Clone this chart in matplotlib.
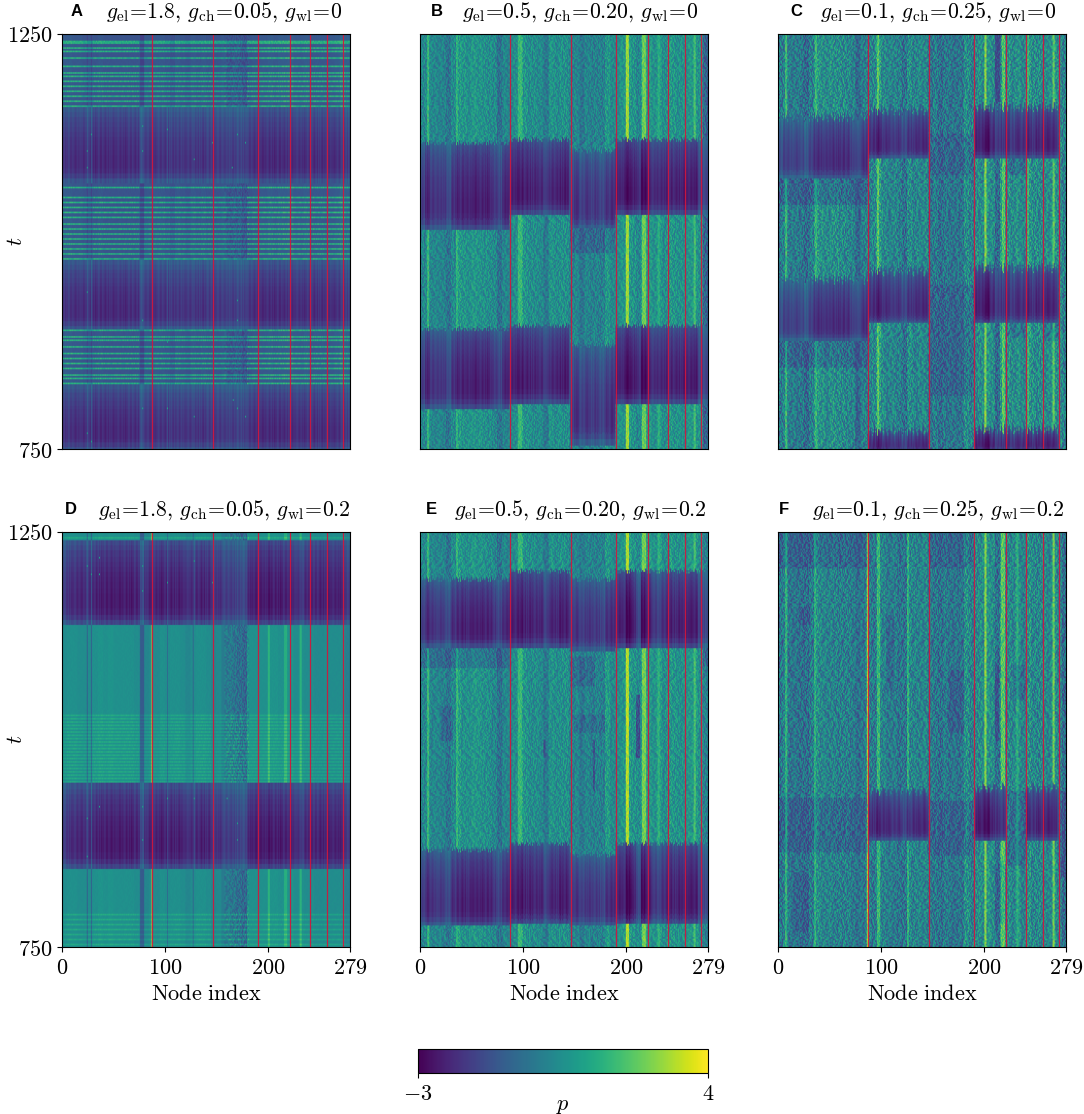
import numpy as np
import matplotlib
matplotlib.use("Agg")
import matplotlib.pyplot as plt

plt.rcParams['mathtext.fontset'] = 'cm'
plt.rcParams['font.family'] = ['DejaVu Serif']

W, H = 1084, 1114
t_top, t_bot = 1250, 750
n_nodes = 280
red_nodes = [87, 146, 190, 221, 240, 257, 272]

# every list below: p per block of 5 nodes, 7 lines of 8 blocks
active_A = [-1.0,-1.0,-1.1,-1.1,-1.2,-1.2,-1.2,-1.1,
            -1.2,-1.2,-1.2,-1.2,-1.2,-1.2,-1.2,-1.2,
            -1.1,-1.1,-1.1,-1.1,-1.2,-1.3,-1.1,-1.2,
            -1.3,-1.1,-1.2,-1.1,-1.2,-1.2,-1.2,-1.1,
            -1.3,-1.2,-1.2,-1.4,-1.2,-1.1,-1.1,-1.1,
            -1.0,-1.1,-1.0,-1.0,-0.9,-1.1,-1.1,-1.0,
            -1.1,-1.1,-1.1,-1.1,-1.1,-1.0,-0.7,-0.9]
quiet_A = [-1.8,-1.9,-2.0,-2.0,-2.0,-2.0,-2.1,-2.1,
           -2.1,-2.1,-2.1,-2.1,-2.1,-2.0,-2.0,-2.0,
           -1.9,-2.0,-1.9,-1.9,-1.9,-1.8,-1.9,-1.8,
           -1.9,-1.8,-1.9,-1.9,-1.8,-1.8,-1.8,-1.7,
           -1.7,-1.7,-1.6,-1.6,-1.9,-2.0,-2.1,-2.1,
           -2.1,-2.1,-2.1,-2.0,-2.0,-2.0,-2.0,-2.0,
           -2.0,-2.0,-2.0,-2.0,-2.0,-2.0,-1.8,-1.7]
stripe_A = [2.4,2.5,2.5,2.5,2.3,1.9,2.5,2.5,
            2.5,2.5,2.5,2.5,2.5,2.5,2.5,1.4,
            2.2,2.4,2.4,2.4,2.3,2.0,2.4,2.4,
            2.2,2.4,2.4,2.4,2.4,2.4,2.2,2.2,
            1.9,1.8,1.6,1.2,2.5,2.5,2.5,2.5,
            2.5,2.5,2.5,2.6,2.6,2.5,2.5,2.5,
            2.5,2.5,2.5,2.5,2.5,2.5,2.4,2.2]

active_B = [0.2,0.3,0.2,0.2,0.1,-0.3,0.3,0.8,
            0.6,0.5,0.7,0.6,0.5,0.4,0.3,-0.4,
            0.2,0.2,0.4,1.2,0.6,0.4,0.4,0.3,
            -0.2,0.6,0.4,0.5,0.5,0.1,0.2,-0.3,
            0.2,0.0,0.1,0.0,0.7,0.3,0.5,0.6,
            0.8,0.6,0.2,1.0,0.8,0.5,0.8,0.4,
            0.8,0.6,0.5,0.6,0.7,0.7,0.5,-0.3]
quiet_B = [-1.7,-2.2,-1.9,-1.8,-1.9,-1.4,-2.0,-2.2,
           -2.3,-2.2,-2.4,-2.3,-2.3,-2.3,-1.9,-1.6,
           -2.2,-2.3,-2.3,-2.5,-2.3,-2.3,-2.2,-2.2,
           -1.7,-2.2,-2.2,-2.4,-2.4,-1.7,-2.0,-1.6,
           -1.9,-1.7,-1.8,-1.5,-1.9,-2.1,-2.3,-2.3,
           -2.8,-2.4,-2.1,-2.8,-2.4,-2.0,-2.2,-2.2,
           -2.3,-2.2,-2.3,-2.4,-2.4,-2.4,-1.7,-1.5]

active_C = [-0.1,0.1,-0.1,-0.1,-0.2,-0.6,0.0,0.7,
            0.5,0.3,0.5,0.4,0.3,0.2,0.1,-0.7,
            0.0,0.1,0.2,0.9,0.3,0.1,0.2,0.0,
            -0.4,0.4,0.1,0.2,0.3,-0.3,-0.1,-0.5,
            -0.2,-0.3,-0.3,-0.3,0.4,0.1,0.4,0.4,
            0.6,0.4,-0.6,0.8,0.6,0.3,0.5,0.2,
            0.7,0.4,0.3,0.4,0.4,0.6,0.4,0.0]
quiet_C = [-1.3,-1.6,-1.5,-1.6,-1.5,-1.1,-1.7,-2.0,
           -2.0,-1.9,-2.1,-2.0,-2.1,-2.0,-1.7,-1.4,
           -2.0,-2.1,-2.1,-2.4,-2.0,-2.0,-1.8,-1.9,
           -1.5,-1.9,-2.0,-2.1,-2.2,-1.5,-1.6,-1.4,
           -1.5,-1.5,-1.5,-1.4,-1.8,-2.0,-2.2,-2.3,
           -2.7,-2.2,-1.7,-1.9,-2.1,-1.8,-2.1,-2.0,
           -2.2,-2.0,-2.2,-2.2,-2.3,-2.2,-1.6,-1.4]

active_D = [0.4,0.5,0.5,0.4,0.4,0.4,0.5,0.6,
            0.5,0.6,0.5,0.5,0.5,0.5,0.4,0.2,
            0.2,0.4,0.3,0.5,0.4,0.5,0.5,0.4,
            0.2,0.4,0.5,0.5,0.4,0.2,0.3,-0.1,
            -0.2,-0.3,-0.5,-0.7,0.5,0.5,0.5,0.5,
            0.6,0.6,0.5,0.6,0.6,0.4,0.5,0.4,
            0.4,0.3,0.3,0.4,0.4,0.4,0.4,0.0]
quiet_D = [-1.8,-2.0,-2.1,-2.2,-2.1,-2.1,-2.3,-2.3,
           -2.4,-2.4,-2.4,-2.4,-2.4,-2.4,-2.3,-2.3,
           -2.1,-2.3,-2.3,-2.4,-2.3,-2.3,-2.3,-2.3,
           -2.0,-2.1,-2.2,-2.3,-2.2,-1.9,-2.0,-1.7,
           -1.7,-1.7,-1.5,-1.5,-2.2,-2.4,-2.4,-2.4,
           -2.5,-2.4,-2.4,-2.3,-2.3,-2.1,-1.8,-2.2,
           -2.3,-2.2,-2.3,-2.3,-2.3,-2.3,-2.2,-1.8]
stripe_D = [0.6,0.7,0.7,0.7,0.6,0.6,0.7,0.7,
            0.7,0.7,0.7,0.7,0.7,0.7,0.7,0.4,
            0.6,0.6,0.6,0.6,0.6,0.6,0.7,0.7,
            0.6,0.6,0.7,0.7,0.7,0.6,0.6,0.8,
            1.0,1.0,1.1,1.0,0.6,0.6,0.6,0.6,
            0.6,0.6,0.6,0.6,0.6,0.6,0.6,0.6,
            0.6,0.6,0.6,0.6,0.6,0.6,0.6,0.5]

active_E = [0.2,0.3,0.2,0.2,0.1,-0.3,0.3,0.9,
            0.5,0.5,0.7,0.6,0.5,0.4,0.2,-0.4,
            0.2,0.2,0.4,1.2,0.6,0.4,0.4,0.3,
            -0.2,0.6,0.4,0.5,0.5,0.1,0.2,-0.2,
            0.2,0.0,0.1,0.0,0.8,0.3,0.5,0.6,
            0.9,0.6,0.4,1.0,0.8,0.5,0.9,0.4,
            0.8,0.6,0.5,0.6,0.7,0.8,0.5,0.0]
quiet_E = [-1.6,-2.2,-1.9,-1.8,-1.8,-1.4,-2.0,-2.2,
           -2.3,-2.2,-2.4,-2.3,-2.3,-2.3,-1.9,-1.6,
           -2.2,-2.3,-2.3,-2.5,-2.3,-2.3,-2.2,-2.2,
           -1.7,-2.2,-2.2,-2.4,-2.4,-1.8,-2.0,-1.6,
           -1.9,-1.8,-1.8,-1.5,-2.0,-2.1,-2.3,-2.3,
           -2.9,-2.4,-1.5,-2.8,-2.4,-1.9,-1.6,-2.1,
           -2.3,-2.2,-2.3,-2.4,-2.4,-2.4,-1.7,-1.5]

active_F = [-0.2,0.1,-0.3,-0.3,-0.4,-0.5,-0.1,0.5,
            0.2,0.1,0.1,0.0,0.0,0.0,-0.1,-0.4,
            -0.2,0.0,-0.2,0.2,0.1,-0.1,-0.1,-0.3,
            -0.3,0.2,0.1,0.1,0.2,-0.1,-0.2,-0.4,
            -0.1,-0.3,-0.3,-0.3,0.5,0.1,0.4,0.4,
            0.7,0.4,-0.4,0.8,0.4,0.2,0.5,0.1,
            0.6,0.2,0.2,0.3,0.2,0.5,0.2,-0.6]
quiet_F = [-1.2,-1.4,-1.3,-1.2,-1.2,-1.1,-1.3,-1.5,
           -1.4,-1.5,-1.5,-1.5,-1.4,-1.3,-1.3,-1.2,
           -1.3,-2.0,-2.1,-2.3,-2.1,-2.1,-1.9,-2.0,
           -1.6,-1.9,-2.1,-2.1,-2.2,-1.6,-1.6,-1.5,
           -1.5,-1.5,-1.4,-1.4,-1.9,-2.1,-2.3,-2.4,
           -2.7,-2.3,-2.0,-1.9,-2.1,-1.5,-1.5,-1.5,
           -2.2,-2.0,-2.2,-2.2,-2.3,-2.2,-1.5,-1.4]

# narrow columns of the active state: first node, width, p
streaks_A = [(24, 1, -1.6), (28, 1, -1.6), (76, 4, -1.7)]
streaks_B = [(7, 2, 1.7), (35, 2, 1.5), (95, 4, 1.7), (200, 3, 3.0), (216, 4, 2.4), (231, 2, 1.4), (266, 2, 1.9)]
streaks_C = [(7, 2, 1.7), (36, 2, 1.6), (96, 2, 2.2), (200, 2, 2.7), (217, 3, 2.1), (241, 2, 1.7), (266, 2, 2.2)]
streaks_D = [(24, 1, -0.8), (28, 1, -0.8), (76, 4, -1.0), (87, 1, 3.0), (102, 1, -0.5), (127, 1, -0.6),
             (200, 2, 1.5), (216, 3, 1.4), (231, 2, 1.5)]
streaks_E = [(7, 2, 1.7), (35, 2, 1.6), (95, 4, 1.7), (200, 3, 3.2), (216, 4, 2.5), (231, 2, 1.5), (266, 2, 1.9)]
streaks_F = [(7, 2, 1.5), (35, 2, 1.4), (86, 2, 3.0), (96, 3, 1.7), (125, 2, 1.5), (200, 2, 2.6), (216, 4, 2.2), (231, 2, 1.4), (266, 2, 2.4)]

# same, for the quiet bands in A and D
quiet_streaks = [(24, 1, -1.3), (28, 1, -1.2), (76, 4, -1.3), (102, 1, -1.5), (128, 1, -1.5)]

# quiet bands per node range: first node, last node, t at top, t at bottom
bands_A = [(0, 280, 1162, 1072), (0, 280, 978, 895), (0, 280, 828, 750)]
bands_B = [(0, 87, 1119, 1016), (0, 87, 895, 800),
           (87, 146, 1124, 1034), (87, 146, 899, 806),
           (146, 190, 1110, 1017), (146, 190, 875, 756),
           (190, 280, 1124, 1034), (190, 280, 899, 806)]
bands_C = [(0, 87, 1150, 1078), (0, 87, 955, 881),
           (87, 146, 1158, 1102), (87, 146, 965, 903), (87, 146, 772, 750),
           (190, 272, 1162, 1102), (190, 272, 969, 903), (190, 272, 774, 750)]
bands_D = [(0, 280, 1241, 1140), (0, 280, 948, 846)]
bands_E = [(0, 87, 1194, 1112), (0, 87, 868, 777),
           (87, 146, 1204, 1112), (87, 146, 875, 779),
           (146, 190, 1194, 1108), (146, 190, 862, 777),
           (190, 280, 1204, 1112), (190, 280, 875, 779)]
bands_F = [(87, 146, 938, 880), (190, 221, 942, 880), (240, 272, 942, 880)]

# darker patches of the active state: first node, last node, t top, t bottom, depth
dims_B = [(146, 190, 1017, 987, 0.7), (275, 280, 1250, 750, 0.5)]
dims_C = [(0, 87, 1078, 1046, 0.7), (0, 87, 881, 849, 0.7),
          (146, 190, 1130, 1082, 0.5), (146, 190, 949, 816, 0.5),
          (221, 240, 1102, 1082, 0.7), (221, 240, 903, 885, 0.6),
          (257, 272, 903, 881, 0.6), (210, 216, 1250, 1170, 1.2)]
dims_E = [(0, 87, 1112, 1088, 0.7), (20, 32, 1040, 1000, 0.6),
          (146, 170, 1100, 1065, 0.6), (150, 180, 1030, 1010, 0.5),
          (210, 214, 1055, 979, 1.8), (120, 122, 1000, 980, 1.2),
          (168, 170, 1000, 940, 1.3), (275, 280, 1112, 1090, 0.7)]
dims_F = [(0, 87, 1250, 1208, 0.6), (146, 190, 1250, 1208, 0.5),
          (0, 87, 930, 866, 0.6), (146, 190, 926, 862, 0.6),
          (221, 240, 938, 850, 0.7), (272, 280, 938, 835, 0.8),
          (20, 32, 1160, 1140, 0.6), (105, 112, 1150, 1060, 0.5),
          (165, 180, 1085, 1010, 0.6), (210, 214, 1090, 1000, 1.1),
          (228, 240, 1090, 1050, 0.6), (15, 30, 840, 770, 0.5),
          (210, 222, 850, 780, 0.5)]

# t of the bright horizontal lines in A and D
stripes_A = [1242, 1239, 1233, 1229, 1221, 1211, 1204, 1199, 1194, 1187, 1182, 1176, 1170, 1164,
             1071, 1065, 1054, 1048, 1042, 1036, 1030, 1022, 1016, 1009, 1003, 997, 991, 985, 980,
             894, 886, 881, 873, 866, 860, 853, 847, 840, 836, 830]
stripes_D = [1244, 1030, 1026, 1022, 1018, 1014, 1010, 1006, 1002, 998, 994, 990, 986, 982,
             978, 974, 970, 966, 962, 958, 954, 950, 790, 784, 778, 772, 766, 760, 754]

# green dots in the quiet bands: node, t
dots_A = [(24, 1110), (24, 1090), (28, 1130), (78, 1140), (78, 1110), (102, 1135),
          (128, 1100), (146, 1120), (165, 1090), (170, 1130), (178, 1120), (24, 940),
          (78, 905), (102, 880), (170, 930), (170, 905), (170, 800), (178, 790), (128, 790),
          (102, 800), (24, 770), (28, 760), (78, 800), (166, 810)]
dots_D = [(24, 1210), (28, 1200), (36, 1220), (36, 1200), (78, 1210), (78, 1180),
          (102, 1190), (128, 1215), (146, 1190), (24, 905), (36, 920), (78, 920),
          (78, 880), (102, 930), (128, 930), (170, 900), (170, 880), (24, 860), (160, 930)]

# hand typed grain, reused over the active state
grain_tile = [
    "71930648251739046285917360482",
    "25806173940268517394026851739",
    "94371502869137460285173940627",
    "08625917340586271930462851704",
    "63190478526904317825069143728",
    "17548209631785490263718504936",
    "82036751940327685149023768514",
    "49712863057194820635971482603",
    "30568194723605814972360851497",
    "96241730586927413058692741305",
    "51807924631580792463158079246",
    "27396051847239605184723960518",
    "84150639275841506392758415063",
    "60972418536097241853609724185",
    "13685207949136852079491368520",
    "75024986317502498631750249863",
    "38461790252846179025384617902",
    "92750316849275031684927503168",
    "46018573294601857329460185732",
    "01397268451039726845103972684",
    "68524103976852410397685241039",
    "25869371406258693714062586937",
    "79143850627914385062791438506",
]
grain = (np.array([[int(c) for c in row] for row in grain_tile]) - 4.5) / 4.5
row_offsets = [3, 17, 8, 26, 1, 12, 21, 5, 28, 14, 9, 23, 2, 19, 7, 25, 11, 16, 4, 27, 13, 6, 22, 0, 18, 10, 24, 15, 20, 3, 9]

# how p moves from the top of a quiet band to the bottom
quiet_shape = [0.9, 0.7, 0.5, 0.4, 0.3, 0.2, 0.1, 0.05, 0.0, -0.05, -0.1, -0.1, -0.1, 0.0, 0.3, 0.8]

rows_t = np.arange(t_top, t_bot, -2)


def build_panel(active, quiet, bands, amp, shift, jag, dims=(), streaks=(), q_streaks=(),
                stripes=(), stripe_h=None, dots=(), dotted=0.0):
    active = np.repeat(active, 5).astype(float)
    quiet = np.repeat(quiet, 5).astype(float)
    amps = np.full(n_nodes, amp)
    amps[158:182] += dotted
    for n, w, p in streaks:
        active[n:n + w] = p
        amps[n:n + w] *= 0.5
    for n, w, p in q_streaks:
        quiet[n:n + w] = p
    tex = np.vstack([np.resize(np.roll(grain[i % 23], row_offsets[(i + shift) % 31]), n_nodes)
                     for i in range(len(rows_t))])
    z = active + amps * tex
    for n0, n1, hi, lo, depth in dims:
        r = (rows_t <= hi) & (rows_t >= lo)
        z[np.ix_(r, np.arange(n0, n1))] -= depth
    z = np.maximum(z, -1.7)
    if stripe_h is not None:
        height = np.repeat(stripe_h, 5)
        for s in stripes:
            i = (t_top - s) // 2
            z[i] += height * (1 + 0.1 * tex[i])
    edge = tex[shift % 23] * jag
    for n0, n1, hi, lo in bands:
        for n in range(n0, n1):
            top = hi + edge[n]
            for i in np.where((rows_t <= top) & (rows_t >= lo))[0]:
                frac = (top - rows_t[i]) / (top - lo + 1)
                z[i, n] = quiet[n] + 0.25 * tex[7, n] + quiet_shape[int(frac * len(quiet_shape))]
    for n, s in dots:
        z[(t_top - s) // 2, n] = 1.0
    return z


panels = [
    ("A", r"$g_{\mathrm{el}}\!=\!1.8,\/g_{\mathrm{ch}}\!=\!0.05,\/g_{\mathrm{wl}}\!=\!0$",
     build_panel(active_A, quiet_A, bands_A, 0.08, 0, 0, streaks=streaks_A, q_streaks=quiet_streaks,
                 stripes=stripes_A, stripe_h=stripe_A, dots=dots_A, dotted=0.3)),
    ("B", r"$g_{\mathrm{el}}\!=\!0.5,\/g_{\mathrm{ch}}\!=\!0.20,\/g_{\mathrm{wl}}\!=\!0$",
     build_panel(active_B, quiet_B, bands_B, 0.9, 3, 3, dims=dims_B, streaks=streaks_B)),
    ("C", r"$g_{\mathrm{el}}\!=\!0.1,\/g_{\mathrm{ch}}\!=\!0.25,\/g_{\mathrm{wl}}\!=\!0$",
     build_panel(active_C, quiet_C, bands_C, 1.3, 5, 6, dims=dims_C, streaks=streaks_C)),
    ("D", r"$g_{\mathrm{el}}\!=\!1.8,\/g_{\mathrm{ch}}\!=\!0.05,\/g_{\mathrm{wl}}\!=\!0.2$",
     build_panel(active_D, quiet_D, bands_D, 0.08, 9, 0, streaks=streaks_D, q_streaks=quiet_streaks,
                 stripes=stripes_D, stripe_h=stripe_D, dots=dots_D, dotted=0.6)),
    ("E", r"$g_{\mathrm{el}}\!=\!0.5,\/g_{\mathrm{ch}}\!=\!0.20,\/g_{\mathrm{wl}}\!=\!0.2$",
     build_panel(active_E, quiet_E, bands_E, 0.9, 11, 3, dims=dims_E, streaks=streaks_E)),
    ("F", r"$g_{\mathrm{el}}\!=\!0.1,\/g_{\mathrm{ch}}\!=\!0.25,\/g_{\mathrm{wl}}\!=\!0.2$",
     build_panel(active_F, quiet_F, bands_F, 1.3, 15, 6, dims=dims_F, streaks=streaks_F)),
]

left_px = [62, 420, 778]
top_px = [34, 532]
letter_px = [77, 437, 796, 71, 431, 784]
title_right_px = [342, 698, 1056, 351, 707, 1065]


def px_axes(fig, x0, y0, x1, y1):
    return fig.add_axes([x0 / W, 1 - y1 / H, (x1 - x0) / W, (y1 - y0) / H])


fig = plt.figure(figsize=(W / 100, H / 100), dpi=100)
for k, (letter, title, z) in enumerate(panels):
    r, c = k // 3, k % 3
    x0, y0 = left_px[c], top_px[r]
    ax = px_axes(fig, x0, y0, x0 + 288, y0 + 415)
    im = ax.imshow(z, cmap='viridis', vmin=-3, vmax=4, aspect='auto', extent=[0, 279, t_bot, t_top])
    for n in red_nodes:
        ax.axvline(n, color='#d4163c', lw=0.9, alpha=0.9)
    ax.set_yticks([750, 1250] if c == 0 else [])
    ax.set_yticklabels(['$750$', '$1250$'] if c == 0 else [], fontsize=16)
    ax.set_xticks([0, 100, 200, 279] if r == 1 else [])
    ax.set_xticklabels(['$0$', '$100$', '$200$', '$279$'] if r == 1 else [], fontsize=16)
    ax.tick_params(length=3.6, width=0.8, pad=3.5)
    if r == 1:
        ax.set_xlabel(r'$\mathrm{Node\ index}$', fontsize=16, labelpad=3)
    if c == 0:
        ax.set_ylabel('$t$', fontsize=16, labelpad=-15)
    fig.text(title_right_px[k] / W, 1 - (y0 - 16.5) / H, title, fontsize=15.7, ha='right', va='baseline')
    fig.text(letter_px[k] / W, 1 - (y0 - 17.5) / H, letter, fontsize=12, fontweight='bold',
             family='Liberation Sans', ha='center', va='baseline')

cax = px_axes(fig, 418, 1049, 708, 1073)
cb = fig.colorbar(im, cax=cax, orientation='horizontal', ticks=[-3, 4])
cb.ax.set_xticklabels(['$-3$', '$4$'], fontsize=16)
cb.ax.tick_params(length=3.6, width=0.8, pad=3.5)
cb.set_label('$p$', fontsize=16, labelpad=-8)

fig.savefig('out.png', dpi=100)
